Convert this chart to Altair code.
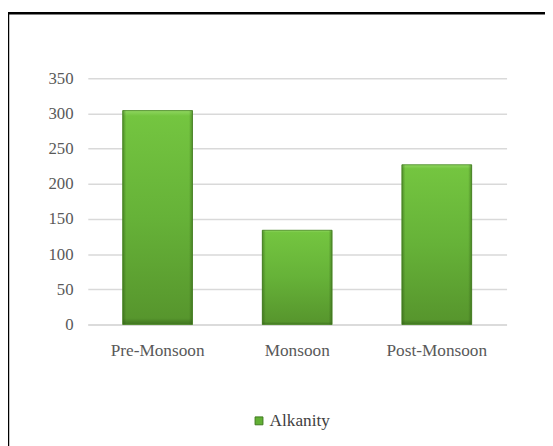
import altair as alt
import pandas as pd

categories = ["Pre-Monsoon", "Monsoon", "Post-Monsoon"]
values = [304, 134, 227]
series = ["Alkanity"] * 3

df = pd.DataFrame({"season": categories, "value": values, "series": series})

FONT = "Times New Roman"

x_enc = alt.X("season:N", sort=categories, title=None,
              scale=alt.Scale(paddingInner=0.5, paddingOuter=0.25),
              axis=alt.Axis(labelAngle=0, labelFont=FONT, labelFontSize=17.5, labelColor="#595959",
                            labelPadding=17, ticks=False, domain=True, domainColor="#d9d9d9",
                            domainWidth=1.5))
y_enc = alt.Y("value:Q", title=None,
              scale=alt.Scale(domain=[0, 350], nice=False),
              axis=alt.Axis(values=[0, 50, 100, 150, 200, 250, 300, 350], labelFont=FONT,
                            labelFontSize=17, labelColor="#595959", labelPadding=15,
                            labelOverlap=False,
                            ticks=False, domain=False, grid=True, gridColor="#d9d9d9",
                            gridWidth=1.5))

base = alt.Chart(df)

legend_bars = base.mark_bar().encode(
    x=x_enc, y=y_enc,
    color=alt.Color("series:N", title=None,
                    scale=alt.Scale(range=["#62b035"]),
                    legend=alt.Legend(orient="none", legendX=165, legendY=339,
                                      symbolType="square", symbolSize=64,
                                      symbolStrokeColor="#3f7a20", symbolStrokeWidth=1,
                                      labelFont=FONT, labelFontSize=17.5, labelColor="#404040",
                                      labelOffset=2)),
)

vgrad = {
    "gradient": "linear", "x1": 0, "y1": 0, "x2": 0, "y2": 1,
    "stops": [
        {"offset": 0, "color": "#8fd660"},
        {"offset": 0.025, "color": "#74c540"},
        {"offset": 0.5, "color": "#66b238"},
        {"offset": 0.97, "color": "#57962d"},
        {"offset": 1, "color": "#3f7420"},
    ],
}
hgrad = {
    "gradient": "linear", "x1": 0, "y1": 0, "x2": 1, "y2": 0,
    "stops": [
        {"offset": 0, "color": "rgba(40,80,15,0.45)"},
        {"offset": 0.05, "color": "rgba(40,80,15,0)"},
        {"offset": 0.95, "color": "rgba(40,80,15,0)"},
        {"offset": 1, "color": "rgba(40,80,15,0.45)"},
    ],
}
grad_bars = base.mark_bar(fill=vgrad, stroke="#4f8a2c", strokeWidth=0.8).encode(
    x=x_enc, y=y_enc
)
edge_bars = base.mark_bar(fill=hgrad).encode(x=x_enc, y=y_enc)

frame = alt.Chart(pd.DataFrame({"a": [0]})).mark_rect(
    fill=None, stroke="#000000", strokeWidth=2.5
).encode(
    x=alt.value(-81), x2=alt.value(520), y=alt.value(-66), y2=alt.value(420)
)

chart = alt.layer(frame, legend_bars, grad_bars, edge_bars).properties(
    width=425, height=250,
    padding={"left": 81, "top": 68, "right": 39, "bottom": 120},
    autosize=alt.AutoSizeParams(type="none"),
).configure(background="white", font=FONT).configure_view(stroke=None)

chart.save("out.html", embed_options={"renderer": "svg", "actions": False})
